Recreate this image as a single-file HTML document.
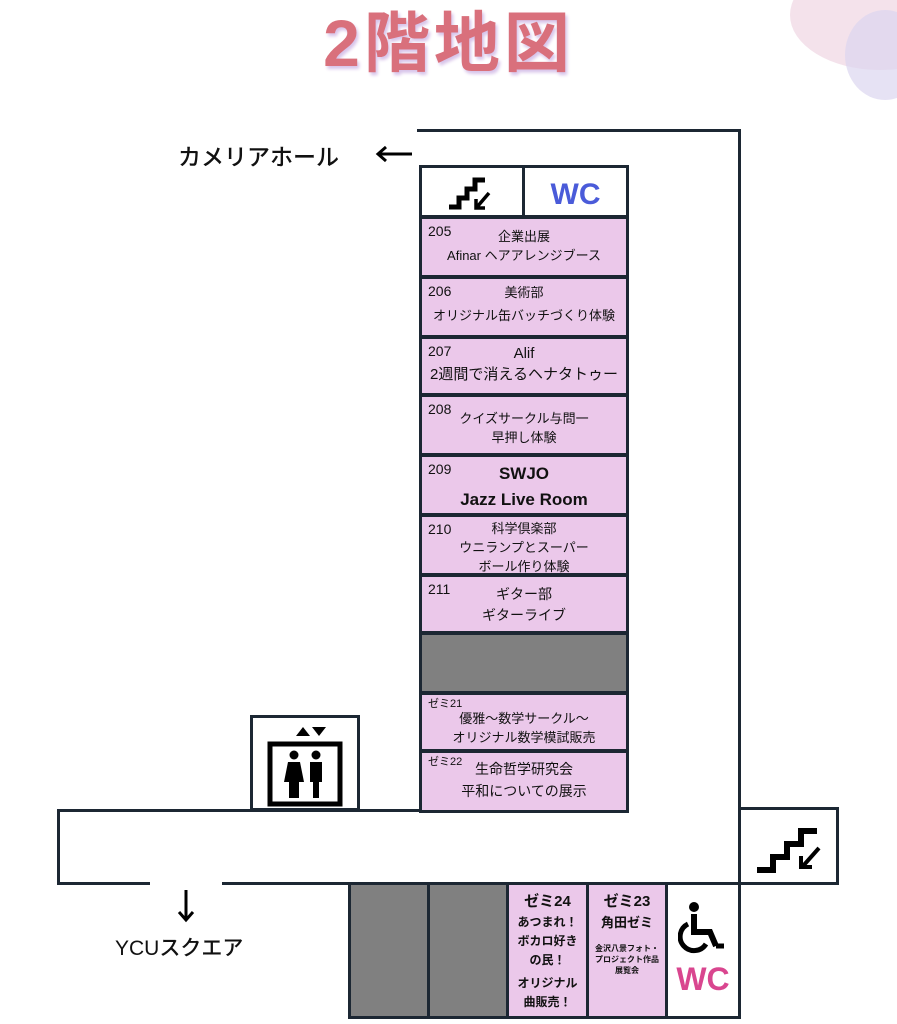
<!DOCTYPE html>
<html><head><meta charset="utf-8"><style>
body{margin:0;width:897px;height:1024px;position:relative;background:#fff;overflow:hidden;font-family:"Liberation Sans","Noto Sans CJK JP",sans-serif;color:#111}
.a{position:absolute;box-sizing:border-box}
.ln{position:absolute;background:#1c2733}
.r{position:absolute;box-sizing:border-box;border:3px solid #1c2733;background:#ebc8ea;text-align:center;font-size:13px;line-height:19px}
.n{position:absolute;left:6px;top:3px;font-size:14px}
.g{background:#808080}
.w{background:#fff}
</style></head><body>
<div class="a" style="left:790px;top:-40px;width:180px;height:110px;border-radius:50%;background:#f1dbe6;opacity:.8"></div>
<div class="a" style="left:845px;top:10px;width:80px;height:90px;border-radius:50%;background:#dcd5f0;opacity:.7"></div>
<div class="a" style="left:0;top:-10px;width:897px;text-align:center;font-size:66px;font-weight:bold;color:#d9707c;letter-spacing:4px;text-shadow:2px 3px 3px #d8c4ea">2階地図</div>

<div class="a" style="left:178px;top:138px;font-size:23px;font-weight:500">カメリアホール</div>
<svg class="a" style="left:374px;top:144px" width="40" height="20"><path d="M38 10H4M12 3L4 10l8 7" fill="none" stroke="#000" stroke-width="3"/></svg>

<div class="ln" style="left:417px;top:129px;width:324px;height:3px"></div>
<div class="ln" style="left:738px;top:129px;width:3px;height:681px"></div>

<div class="r w" style="left:419px;top:165px;width:106px;height:53px"></div>
<div class="r w" style="left:522px;top:165px;width:107px;height:53px;color:#4a5bd9;font-size:30px;font-weight:bold;line-height:54px">WC</div>
<svg class="a" style="left:447px;top:173px" width="48" height="40"><path d="M2 34h10v-9h8v-9h8v-9h10" fill="none" stroke="#000" stroke-width="5"/><path d="M42 20l-12 14M29 26v9h9" fill="none" stroke="#000" stroke-width="3.5"/></svg>

<div class="r" style="left:419px;top:216px;width:210px;height:62px"><span class="n">205</span><div style="margin-top:8px">企業出展</div><div>Afinar ヘアアレンジブース</div></div>
<div class="r" style="left:419px;top:276px;width:210px;height:62px"><span class="n">206</span><div style="margin-top:4px">美術部</div><div style="margin-top:4px">オリジナル缶バッチづくり体験</div></div>
<div class="r" style="left:419px;top:336px;width:210px;height:60px;font-size:15px"><span class="n">207</span><div style="margin-top:5px">Alif</div><div style="margin-top:2px">2週間で消えるヘナタトゥー</div></div>
<div class="r" style="left:419px;top:394px;width:210px;height:62px"><span class="n">208</span><div style="margin-top:12px">クイズサークル与問一</div><div>早押し体験</div></div>
<div class="r" style="left:419px;top:454px;width:210px;height:62px;font-size:17px;line-height:26px;font-weight:bold"><span class="n" style="line-height:19px;font-weight:normal">209</span><div style="margin-top:4px">SWJO</div><div>Jazz Live Room</div></div>
<div class="r" style="left:419px;top:514px;width:210px;height:62px"><span class="n">210</span><div style="margin-top:2px">科学倶楽部</div><div>ウニランプとスーパー</div><div>ボール作り体験</div></div>
<div class="r" style="left:419px;top:574px;width:210px;height:60px;font-size:14px"><span class="n">211</span><div style="margin-top:8px">ギター部</div><div style="margin-top:2px">ギターライブ</div></div>
<div class="r g" style="left:419px;top:632px;width:210px;height:62px"></div>
<div class="r" style="left:419px;top:692px;width:210px;height:60px"><span class="n" style="font-size:11px;top:0">ゼミ21</span><div style="margin-top:14px">優雅〜数学サークル〜</div><div>オリジナル数学模試販売</div></div>
<div class="r" style="left:419px;top:750px;width:210px;height:63px;font-size:14px"><span class="n" style="font-size:11px;top:0">ゼミ22</span><div style="margin-top:7px">生命哲学研究会</div><div style="margin-top:3px">平和についての展示</div></div>

<div class="r w" style="left:250px;top:715px;width:110px;height:96px"></div>
<svg class="a" style="left:266px;top:722px" width="80" height="86"><path d="M30 14l7-9 7 9z" fill="#000"/><path d="M46 5l7 9 7-9z" fill="#000"/><rect x="4" y="22" width="70" height="60" fill="none" stroke="#000" stroke-width="5"/><circle cx="28" cy="33" r="4.5"/><circle cx="50" cy="33" r="4.5"/><path d="M22 40h12l4 20h-5v16h-10v-16h-5z" fill="#000"/><path d="M44 40h12v20h-3v16h-6v-16h-3z" fill="#000"/></svg>

<div class="ln" style="left:57px;top:809px;width:362px;height:3px"></div>
<div class="ln" style="left:57px;top:809px;width:3px;height:76px"></div>
<div class="ln" style="left:57px;top:882px;width:93px;height:3px"></div>
<div class="ln" style="left:222px;top:882px;width:130px;height:3px"></div>
<svg class="a" style="left:176px;top:888px" width="20" height="36"><path d="M10 2v30M3 24l7 8 7-8" fill="none" stroke="#000" stroke-width="3"/></svg>
<div class="a" style="left:115px;top:932px;font-size:21px;font-weight:500">YCUスクエア</div>

<div class="r w" style="left:738px;top:807px;width:101px;height:78px"></div>
<svg class="a" style="left:755px;top:818px" width="70" height="58"><path d="M2 52h16v-13h14v-13h14v-13h16" fill="none" stroke="#000" stroke-width="6"/><path d="M64 30l-16 18M46 38v11h11" fill="none" stroke="#000" stroke-width="4"/></svg>

<div class="r g" style="left:348px;top:882px;width:82px;height:137px"></div>
<div class="r g" style="left:427px;top:882px;width:82px;height:137px"></div>
<div class="r" style="left:506px;top:882px;width:83px;height:137px;font-size:12px;line-height:19px;font-weight:bold"><div style="font-size:15px;margin-top:6px;line-height:22px">ゼミ24</div><div>あつまれ！</div><div>ボカロ好き</div><div>の民！</div><div style="margin-top:4px">オリジナル</div><div>曲販売！</div></div>
<div class="r" style="left:586px;top:882px;width:82px;height:137px;font-size:8px;line-height:11px;font-weight:bold"><div style="font-size:15px;margin-top:6px;line-height:22px">ゼミ23</div><div style="font-size:13px;line-height:20px;margin-bottom:10px">角田ゼミ</div><div>金沢八景フォト・</div><div>プロジェクト作品</div><div>展覧会</div></div>
<div class="r w" style="left:665px;top:882px;width:76px;height:137px;color:#d9468f;font-size:32px;font-weight:bold"><div style="margin-top:74px;line-height:40px">WC</div></div>
<svg class="a" style="left:678px;top:902px" width="52" height="52"><circle cx="16" cy="5" r="5"/><path d="M16 12v18h16l6 14" fill="none" stroke="#000" stroke-width="6"/><path d="M10 22a14 14 0 1 0 18 20" fill="none" stroke="#000" stroke-width="5"/><path d="M38 44h8" stroke="#000" stroke-width="5"/></svg>
</body></html>
